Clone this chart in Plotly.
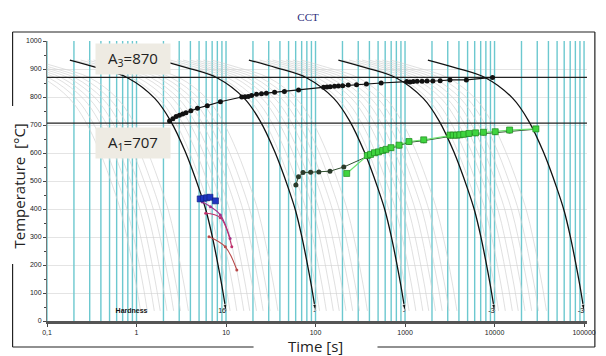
import plotly.graph_objects as go

# ---------------- data ----------------
# reference cooling curve profile (time as fraction of end time, temperature)
profile_frac = [0.018, 0.036, 0.08, 0.16, 0.24, 0.35, 0.5, 0.6, 0.7, 0.8, 0.9, 1.0]
profile_temp = [932, 905, 868, 795, 715, 605, 472, 393, 304, 213, 125, 36]

black_end_times = [10, 100, 1000, 10000, 100000]
black_end_labels = ["16", "-", "-", "-3", "-3"]

gray_decades = [1, 10, 100, 1000, 10000]
gray_multipliers = [1.11, 1.32, 1.58, 1.84, 2.19, 2.6, 3.1, 3.8]

grid_decades = [0.1, 1, 10, 100, 1000, 10000]
grid_digits = [1, 2, 3, 4, 5, 6, 7, 8, 9]
grid_last = 100000

A3 = 870
A1 = 707

# ferrite start (black dots)
fs_time = [2.34, 2.55, 2.77, 3.02, 3.28, 3.57, 4.05, 4.80, 6.18, 8.65, 15.0, 16.3, 17.7, 19.3,
           21.9, 24.9, 28.2, 34.9, 44.9, 64.6, 123, 134, 146, 163, 180, 201, 232, 287, 370, 541,
           1044, 1136, 1235, 1367, 1550, 1759, 2047, 2468, 3177, 4842, 9500]
fs_temp = [714, 722, 730, 735, 739, 744, 751, 760, 769, 783, 800, 801, 802, 805,
           810, 812, 813, 817, 820, 825, 835, 836, 837, 838, 839, 840, 843, 844, 846, 850,
           855, 854, 855, 856, 856, 857, 857, 858, 861, 861, 870]

# pearlite (dark circles)
ps_time = [60.3, 64.5, 72.5, 88.1, 109, 145, 207, 379, 412, 456, 505, 563, 614, 697, 859, 1107,
           1617, 3178, 3455, 3757, 4094, 4528, 5180, 6134, 7510, 10180, 14730, 28970]
ps_temp = [486, 515, 530, 531, 532, 535, 550, 589, 593, 599, 602, 607, 611, 617, 625, 638,
           644, 661, 661, 661, 662, 664, 667, 669, 671, 673, 679, 685]

# green squares
gs_time = [223, 379, 412, 456, 505, 563, 614, 697, 859, 1107, 1617, 3178, 3455, 3757, 4094,
           4528, 5180, 6134, 7510, 10180, 14730, 28970]
gs_temp = [527, 591, 595, 601, 604, 609, 613, 619, 628, 641, 647, 664, 664, 664, 665,
           667, 670, 672, 674, 676, 682, 686]

# blue squares
bs_time = [5.14, 5.59, 6.08, 6.62, 7.63]
bs_temp = [436, 438, 440, 442, 429]

# magenta / red lines
m1_time = [5.44, 6.71, 8.65, 11.1]
m1_temp = [425, 408, 379, 295]
m2_time = [5.93, 8.65, 11.6]
m2_temp = [385, 369, 265]
m3_time = [6.46, 9.82, 13.2]
m3_temp = [301, 265, 182]

hardness_time = 0.88
label_temp = 36

# ---------------- layout geometry (pixels) ----------------
W, H = 606, 356
L, R, T, B = 47, 596, 41, 321


def px(x):
    return (x - L) / (R - L)


def py(y):
    return (B - y) / (B - T)


fig = go.Figure()

# cyan vertical lines
cx, cy = [], []
for d in grid_decades:
    for m in grid_digits:
        cx += [d * m, d * m, None]
        cy += [0, 1000, None]
cx += [grid_last, grid_last, None]
cy += [0, 1000, None]
fig.add_trace(go.Scatter(x=cx, y=cy, mode="lines", line=dict(color="#6cc8cf", width=1.4),
                         hoverinfo="skip", showlegend=False))

# gray cooling curves
gx, gy = [], []
for d in gray_decades:
    for m in gray_multipliers:
        te = d * m
        gx += [f * te for f in profile_frac] + [None]
        gy += profile_temp + [None]
fig.add_trace(go.Scatter(x=gx, y=gy, mode="lines", line=dict(color="#d2d2d2", width=0.7, shape="spline"),
                         hoverinfo="skip", showlegend=False))

# A3 / A1 lines
fig.add_trace(go.Scatter(x=[0.1, 10 ** 5.05], y=[A3, A3], mode="lines", line=dict(color="#222", width=1.2),
                         showlegend=False))
fig.add_trace(go.Scatter(x=[0.1, 10 ** 5.05], y=[A1, A1], mode="lines", line=dict(color="#222", width=1.2),
                         showlegend=False))

# black cooling curves
bx, by, bsz = [], [], []
for te in black_end_times:
    bx += [f * te for f in profile_frac] + [None]
    by += profile_temp + [None]
    bsz += [0] * (len(profile_frac) - 1) + [7, 0]
fig.add_trace(go.Scatter(x=bx, y=by, mode="lines+markers",
                         line=dict(color="#111", width=1.3, shape="spline"),
                         marker=dict(symbol="arrow", size=bsz, color="#111", angleref="previous"),
                         showlegend=False))

# end labels
fig.add_trace(go.Scatter(x=black_end_times, y=[label_temp] * len(black_end_times), mode="text",
                         text=black_end_labels, textposition="middle left",
                         textfont=dict(family="Liberation Sans", size=7, color="#111"),
                         showlegend=False))
fig.add_trace(go.Scatter(x=[hardness_time], y=[label_temp], mode="text", text=["<b>Hardness</b>"],
                         textfont=dict(family="Liberation Sans", size=7, color="#111"), showlegend=False))

# magenta / red
for tx, ty, col in [(m1_time, m1_temp, "#a0308e"), (m2_time, m2_temp, "#c0306c"), (m3_time, m3_temp, "#b84848")]:
    fig.add_trace(go.Scatter(x=tx, y=ty, mode="lines+markers", line=dict(color=col, width=1.1, shape="spline"),
                             marker=dict(size=3, color=col), showlegend=False))

# blue squares
fig.add_trace(go.Scatter(x=bs_time, y=bs_temp, mode="lines+markers", line=dict(color="#2233aa", width=1),
                         marker=dict(symbol="square", size=6, color="#1f35c0", line=dict(color="#10207a", width=0.6)),
                         showlegend=False))

# pearlite dark circles
fig.add_trace(go.Scatter(x=ps_time, y=ps_temp, mode="lines+markers", line=dict(color="#2f4f2f", width=1),
                         marker=dict(size=5, color="#2a3a2a"), showlegend=False))
# green squares
fig.add_trace(go.Scatter(x=gs_time, y=gs_temp, mode="lines+markers", line=dict(color="#6ee06e", width=1.2),
                         marker=dict(symbol="square", size=6, color="#3fd43f", line=dict(color="#1e8a1e", width=0.7)),
                         showlegend=False))

# ferrite start black dots
fig.add_trace(go.Scatter(x=fs_time, y=fs_temp, mode="lines+markers", line=dict(color="#111", width=1.2),
                         marker=dict(size=5, color="#111"), showlegend=False))

# frame lines
frame = [((12, 32), (604, 32)), ((604, 32), (604, 347)), ((12, 32), (12, 106)), ((12, 264), (12, 347)),
         ((12, 347), (257, 347)), ((383, 347), (604, 347))]
shapes = []
for (x0, y0), (x1, y1) in frame:
    shapes.append(dict(type="line", xref="paper", yref="paper", x0=px(x0), y0=py(y0), x1=px(x1), y1=py(y1),
                       line=dict(color="#222", width=1.2)))

annotations = [
    dict(xref="paper", yref="paper", x=px(134), y=py(58.5), xanchor="center", yanchor="middle",
         text="A<sub>3</sub>=870", showarrow=False,
         bgcolor="#eeebe3", width=72, height=28, font=dict(family="Open Sans", size=15, color="#222")),
    dict(xref="paper", yref="paper", x=px(134), y=py(142.5), xanchor="center", yanchor="middle",
         text="A<sub>1</sub>=707", showarrow=False,
         bgcolor="#eeebe3", width=72, height=28, font=dict(family="Open Sans", size=15, color="#222")),
    dict(xref="paper", yref="paper", x=px(19), y=py(186), xanchor="center", yanchor="middle",
         text="Temperature  [°C]", textangle=-90,
         showarrow=False, font=dict(family="Open Sans", size=15, color="#222")),
    dict(xref="paper", yref="paper", x=px(320), y=py(346), xanchor="center", yanchor="middle",
         text="Time [s]",
         showarrow=False, font=dict(family="Open Sans", size=15, color="#222")),
]

tick_x = [0.1, 1, 10, 100, 1000, 10000, 100000]
tick_x_text = ["0,1", "1", "10", "100", "1000", "10000", "100000"]

fig.update_layout(
    width=W, height=H,
    margin=dict(l=L, r=W - R, t=T, b=H - B),
    paper_bgcolor="white", plot_bgcolor="white",
    title=dict(text="CCT", x=308 / W, xref="container", y=1 - 17 / H, yref="container",
               xanchor="center", yanchor="middle",
               font=dict(family="Liberation Serif", size=11, color="#2b2b7a")),
    shapes=shapes, annotations=annotations,
    xaxis=dict(type="log", range=[-1, -1 + (R - L) / 91.0], showgrid=False, zeroline=False,
               tickvals=tick_x, ticktext=tick_x_text, ticks="outside", ticklen=3, tickcolor="#444",
               showline=True, linecolor="#555", linewidth=2.5,
               tickfont=dict(family="Liberation Sans", size=7, color="#222")),
    yaxis=dict(range=[0, 1000], dtick=100, tick0=0, showgrid=True, gridcolor="#e4e4e4", gridwidth=1,
               zeroline=False, ticks="outside", ticklen=3, tickcolor="#444",
               minor=dict(dtick=50, ticks="outside", ticklen=2, tickcolor="#444", showgrid=False),
               showline=True, linecolor="#777", linewidth=1,
               tickfont=dict(family="Liberation Sans", size=7, color="#222")),
)

fig.write_html("out.html", config={"displayModeBar": False, "staticPlot": True},
               post_script="document.body.style.margin='0';document.body.style.overflow='hidden';")
